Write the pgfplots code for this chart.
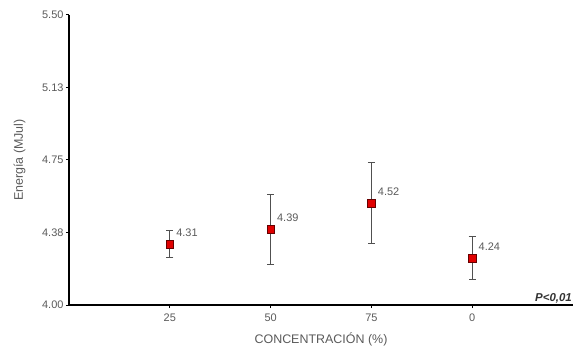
\documentclass[border=0pt]{standalone}
\usepackage{fontspec}
\setmainfont{Liberation Sans}
\usepackage{pgfplots}
\pgfplotsset{compat=1.18}
\definecolor{txt}{HTML}{5A5A5A}
\definecolor{ebar}{HTML}{505050}
\definecolor{mred}{HTML}{E00000}
\begin{document}
\begin{tikzpicture}
\useasboundingbox (0,0) rectangle (581bp,351bp);
\begin{axis}[
  at={(69bp,46bp)}, anchor=origin,
  scale only axis, width=504bp, height=290bp,
  xmin=0, xmax=5, ymin=4, ymax=5.5,
  axis x line=bottom, axis y line=left,
  axis line style={-, line width=1.6bp, black},
  xtick={1,2,3,4}, xticklabels={25,50,75,0},
  ytick={4,4.375,4.75,5.125,5.5},
  yticklabels={4.00,4.38,4.75,5.13,5.50},
  tick style={black, line width=1bp},
  major tick length=3bp,
  tick align=outside,
  ticklabel style={font=\fontsize{11}{12}\selectfont, text=txt},
  yticklabel style={xshift=1bp},
  xticklabel style={yshift=-2bp},
  /pgf/number format/assume math mode=true,
  xlabel={CONCENTRACIÓN (\%)},
  ylabel={Energía (MJul)},
  label style={font=\fontsize{12.5}{14}\selectfont, text=txt},
  xlabel style={at={(axis description cs:0.5,0)}, anchor=north, yshift=-24bp},
  ylabel style={at={(axis description cs:0,0.5)}, anchor=south, xshift=0bp, yshift=40bp},
  clip=false,
  nodes near coords,
  point meta=explicit symbolic,
  nodes near coords style={anchor=west, xshift=3bp, yshift=11bp, font=\fontsize{11}{12}\selectfont, text=txt},
]
\addplot[only marks, mark=square*, mark size=3.8bp,
  mark options={fill=mred, draw=black!60!red, line width=0.4bp},
  error bars/.cd, y dir=both, y explicit,
  error bar style={ebar, line width=0.8bp},
  error mark options={rotate=90, mark size=3.5bp, ebar, line width=0.8bp}]
  coordinates {
  (1,4.316) +- (0,0.068) [4.31]
  (2,4.393) +- (0,0.181) [4.39]
  (3,4.528) +- (0,0.210) [4.52]
  (4,4.243) +- (0,0.112) [4.24]
  };
\node[anchor=south east, font=\fontsize{11.5}{12}\selectfont\bfseries\itshape, text=black!80, inner sep=1bp, yshift=1bp] at (rel axis cs:1,0) {P<0,01};
\end{axis}
\end{tikzpicture}
\end{document}
